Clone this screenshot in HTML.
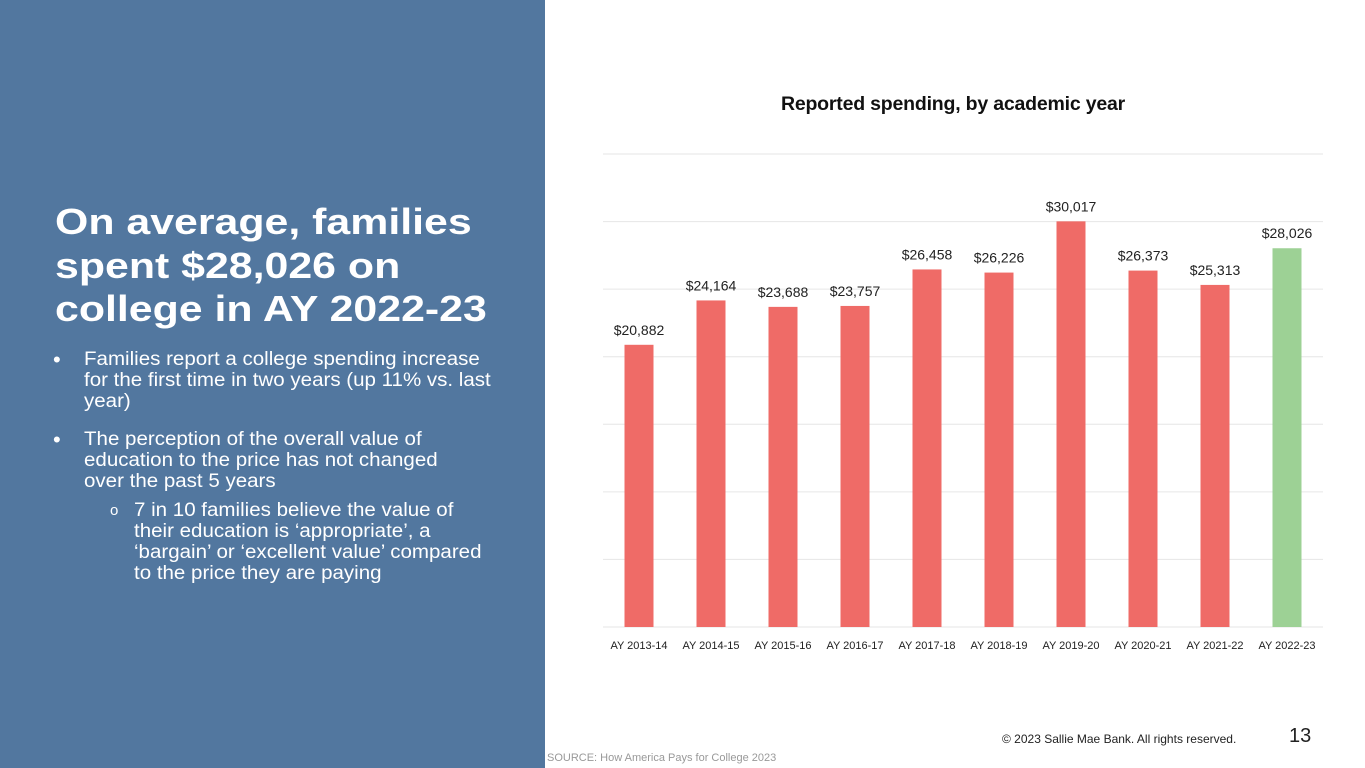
<!DOCTYPE html>
<html><head><meta charset="utf-8"><style>
body{margin:0;width:1365px;height:768px;overflow:hidden;background:#fff;font-family:"Liberation Sans",sans-serif;position:relative}
#left{position:absolute;left:0;top:0;width:545px;height:768px;background:#52779f}
#headline{position:absolute;left:55px;top:200px;color:#fff;font-weight:bold;font-size:36px;line-height:43.5px;white-space:nowrap;transform:scaleX(1.19);transform-origin:0 0}
.b{position:absolute;color:#fff;font-size:19px;line-height:21px;white-space:nowrap;transform:scaleX(1.08);transform-origin:0 0}
.dot{position:absolute;color:#fff;font-size:22px;line-height:21px}
#title{position:absolute;left:603px;width:700px;top:93px;text-align:center;font-weight:bold;font-size:19.5px;color:#111;letter-spacing:-0.2px}
#foot1{position:absolute;left:1002px;top:732px;font-size:12px;color:#222}
#pnum{position:absolute;left:1289px;top:725px;font-size:20px;color:#222}
#src{position:absolute;left:547px;top:752px;font-size:11px;color:#999}
</style></head><body>
<div id="left"></div>
<div id="headline">On average, families<br>spent $28,026 on<br>college in AY 2022-23</div>
<div class="dot" style="left:53px;top:349px">•</div>
<div class="b" style="left:84px;top:349px">Families report a college spending increase<br>for the first time in two years (up 11% vs. last<br>year)</div>
<div class="dot" style="left:53px;top:429px">•</div>
<div class="b" style="left:84px;top:429px">The perception of the overall value of<br>education to the price has not changed<br>over the past 5 years</div>
<div class="dot" style="left:110px;top:500px;font-size:15px">o</div>
<div class="b" style="left:134px;top:500px">7 in 10 families believe the value of<br>their education is ‘appropriate’, a<br>‘bargain’ or ‘excellent value’ compared<br>to the price they are paying</div>
<div id="title">Reported spending, by academic year</div>
<svg id="chart" width="1365" height="768" style="position:absolute;left:0;top:0"></svg>
<div id="foot1">© 2023 Sallie Mae Bank. All rights reserved.</div>
<div id="pnum">13</div>
<div id="src">SOURCE: How America Pays for College 2023</div>
<script>
const categories=["AY 2013-14","AY 2014-15","AY 2015-16","AY 2016-17","AY 2017-18","AY 2018-19","AY 2019-20","AY 2020-21","AY 2021-22","AY 2022-23"];
const values=[20882,24164,23688,23757,26458,26226,30017,26373,25313,28026];
const valueLabels=["$20,882","$24,164","$23,688","$23,757","$26,458","$26,226","$30,017","$26,373","$25,313","$28,026"];
const gridValues=[0,5000,10000,15000,20000,25000,30000,35000];
const svg=document.getElementById('chart');const NS='http://www.w3.org/2000/svg';
const x0=603,x1=1323,yBase=627,yTop=154,maxV=35000;
const band=(x1-x0)/categories.length;
const y=v=>yBase-(v/maxV)*(yBase-yTop);
const xc=i=>x0+band*(i+0.5);
function mk(t,a){const e=document.createElementNS(NS,t);for(const k in a)e.setAttribute(k,a[k]);svg.appendChild(e);return e;}
gridValues.forEach(g=>{const l=mk('line',{x1:x0,x2:x1,y1:y(g),y2:y(g),stroke:'#e6e6e6','stroke-width':1});

});
categories.forEach((c,i)=>{
const r=mk('rect',{x:xc(i)-14.5,y:y(values[i]),width:29,height:yBase-y(values[i]),fill:i===categories.length-1?'#9dd195':'#ef6b67'});


const t=mk('text',{x:xc(i),y:y(values[i])-10,'text-anchor':'middle','font-size':14,fill:'#222','font-family':'Liberation Sans, sans-serif'});
t.textContent=valueLabels[i];


const a=mk('text',{x:xc(i),y:649,'text-anchor':'middle','font-size':11,fill:'#222','font-family':'Liberation Sans, sans-serif'});
a.textContent=c;


});
</script>
</body></html>
